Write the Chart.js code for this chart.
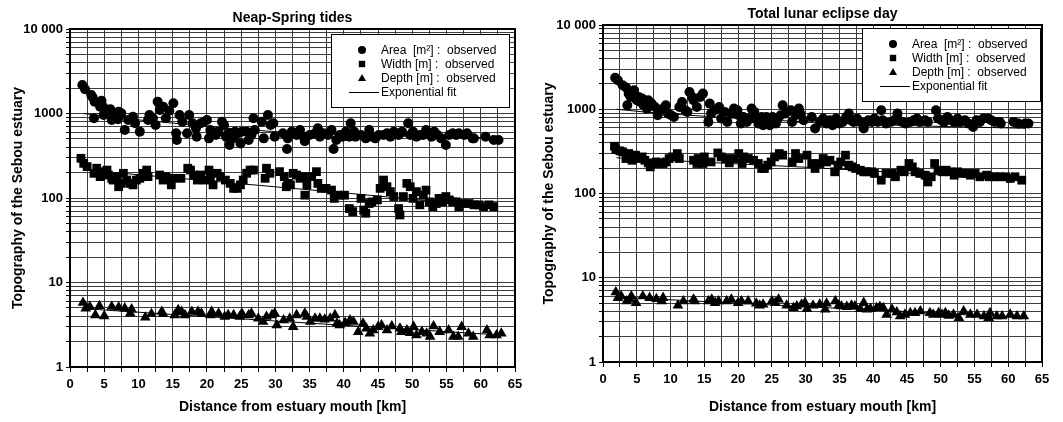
<!DOCTYPE html>
<html>
<head>
<meta charset="utf-8">
<title>Sebou estuary topography</title>
<script src="https://cdn.jsdelivr.net/npm/chart.js@4/dist/chart.umd.min.js"></script>
<style>
    body { margin: 0; background: #fff; }
    .panel { position: absolute; top: 0; height: 422px; }
</style>
</head>
<body>
<div class="panel" style="left: 0; width: 531px;"><canvas id="neap-chart"></canvas></div>
<div class="panel" style="left: 531px; width: 532px;"><canvas id="eclipse-chart"></canvas></div>
<script>
// [distance km, value] pairs
const neapArea = [
    [1.8, 2175], [2.2, 1933], [3.1, 1656], [3.3, 1554], [3.5, 877], [3.6, 1381], [4.4, 1205], [4.6, 1418],
    [4.9, 1183], [4.9, 960], [5.1, 1050], [5.5, 1100], [5.9, 1120], [6.1, 838], [6.3, 917], [6.6, 1004],
    [7.0, 854], [7.1, 1050], [7.5, 1004], [8.0, 638], [8.5, 838], [9.2, 917], [9.5, 765], [10.2, 610],
    [11.4, 838], [11.6, 960], [12.1, 877], [12.5, 731], [12.8, 1381], [13.1, 1100], [13.6, 1205], [14.0, 877],
    [14.5, 1080], [15.1, 1320], [15.5, 583], [15.6, 486], [16.0, 960], [16.4, 800], [17.1, 583], [17.4, 960],
    [17.9, 765], [18.4, 667], [18.5, 532], [19.1, 765], [19.6, 800], [20.0, 838], [20.3, 508], [20.5, 638],
    [21.3, 557], [21.7, 610], [22.2, 800], [22.5, 731], [22.8, 532], [23.2, 583], [23.3, 424], [23.8, 508],
    [24.1, 610], [24.6, 583], [24.9, 443], [25.1, 610], [25.8, 610], [26.1, 486], [26.5, 557], [26.8, 877],
    [27.0, 638], [28.0, 800], [28.3, 508], [28.9, 960], [29.3, 731], [29.7, 765], [29.9, 532], [31.1, 583],
    [31.7, 380], [31.8, 508], [32.4, 610], [33.1, 557], [33.6, 638], [34.1, 532], [34.3, 470], [35.0, 557],
    [35.8, 583], [36.2, 667], [36.5, 532], [37.0, 583], [37.7, 557], [38.2, 638], [38.5, 380], [38.9, 486],
    [39.4, 557], [39.8, 532], [40.3, 610], [40.8, 532], [41.0, 765], [41.5, 610], [41.7, 532], [42.5, 557],
    [43.2, 508], [43.7, 638], [44.1, 532], [44.6, 508], [45.1, 557], [45.8, 557], [46.3, 583], [46.8, 532],
    [47.3, 610], [48.0, 557], [48.5, 610], [49.4, 765], [49.7, 557], [50.1, 610], [50.6, 532], [51.1, 557],
    [51.6, 557], [52.0, 638], [52.8, 532], [53.2, 610], [53.7, 557], [54.2, 508], [54.9, 424], [55.4, 557],
    [55.9, 583], [56.4, 557], [56.8, 583], [57.6, 557], [58.0, 583], [58.8, 508], [59.0, 508], [60.7, 532],
    [61.9, 486], [62.6, 486]
];
const neapWidth = [
    [1.6, 295], [2.0, 257], [2.5, 235], [3.5, 196], [3.9, 225], [4.4, 179], [4.7, 205], [5.4, 214],
    [5.6, 187], [6.1, 171], [6.3, 163], [6.8, 179], [7.1, 136], [7.5, 149], [7.8, 196], [8.3, 163],
    [8.8, 149], [9.2, 143], [9.7, 163], [10.2, 171], [10.7, 196], [11.2, 214], [11.4, 179], [13.1, 187],
    [13.6, 163], [14.0, 179], [14.8, 143], [15.0, 171], [16.2, 171], [17.2, 225], [17.6, 214], [18.1, 187],
    [18.6, 163], [19.1, 187], [19.8, 163], [20.3, 214], [20.5, 179], [20.9, 143], [21.5, 196], [22.0, 179],
    [22.7, 163], [23.4, 149], [23.9, 130], [24.4, 130], [24.9, 143], [25.3, 163], [25.8, 196], [26.3, 214],
    [26.8, 214], [28.5, 171], [28.7, 225], [29.2, 196], [30.6, 205], [31.3, 179], [31.6, 136], [31.8, 149],
    [32.2, 143], [32.6, 196], [33.1, 187], [33.6, 171], [34.1, 179], [34.3, 108], [34.6, 143], [35.3, 179],
    [36.0, 205], [36.2, 149], [36.7, 130], [37.4, 130], [38.2, 124], [38.6, 99], [39.4, 108], [40.1, 108],
    [40.8, 75], [41.3, 69], [42.5, 99], [42.9, 72], [43.2, 66], [43.7, 86], [44.1, 90], [44.9, 95],
    [45.3, 130], [45.8, 163], [46.3, 136], [46.8, 119], [47.3, 104], [48.0, 75], [48.2, 63], [48.7, 104],
    [49.2, 149], [49.7, 136], [50.1, 99], [50.6, 119], [51.1, 83], [51.6, 108], [52.0, 124], [52.5, 90],
    [53.0, 79], [53.5, 86], [53.9, 99], [54.4, 90], [54.9, 104], [55.4, 95], [55.9, 90], [56.4, 90],
    [56.8, 79], [57.3, 86], [58.3, 86], [59.0, 83], [59.7, 83], [60.4, 79], [61.2, 83], [61.9, 79]
];
const neapDepth = [
    [1.9, 5.78], [2.3, 4.95], [2.9, 5.18], [3.7, 4.12], [4.3, 5.27], [5.0, 4.01], [6.1, 5.18], [7.1, 5.09],
    [8.0, 4.95], [8.8, 4.31], [9.0, 4.82], [11.0, 3.87], [11.9, 4.24], [13.4, 4.52], [13.6, 4.24], [15.3, 4.12],
    [15.8, 4.73], [16.3, 4.52], [16.8, 4.12], [17.8, 4.52], [18.7, 4.52], [19.2, 4.31], [20.5, 4.12], [20.7, 4.52],
    [21.7, 4.31], [22.6, 3.94], [23.1, 4.12], [23.9, 4.12], [24.8, 3.94], [25.1, 4.31], [26.1, 4.12], [26.5, 4.31],
    [27.5, 3.76], [28.2, 3.43], [28.7, 3.94], [29.5, 4.12], [29.9, 4.31], [30.2, 3.13], [31.2, 3.59], [32.1, 3.76],
    [32.6, 2.99], [33.1, 4.12], [34.3, 4.31], [34.6, 3.94], [35.1, 3.43], [35.8, 3.76], [36.5, 3.76], [37.2, 3.66],
    [38.0, 3.76], [38.7, 4.12], [39.0, 3.28], [39.4, 3.13], [40.2, 3.34], [40.9, 3.59], [41.4, 3.43], [42.1, 2.61],
    [42.8, 3.28], [43.3, 2.86], [43.8, 2.49], [44.3, 2.73], [45.0, 2.99], [45.5, 3.13], [46.3, 2.73], [47.0, 3.05],
    [48.2, 2.86], [48.4, 2.61], [49.2, 2.73], [49.7, 2.54], [50.2, 2.99], [50.6, 2.38], [51.4, 2.61], [52.1, 2.49],
    [52.6, 2.28], [53.1, 3.05], [54.0, 2.61], [55.3, 2.73], [56.0, 2.28], [56.7, 2.28], [57.2, 2.99], [58.2, 2.49],
    [58.9, 2.28], [60.9, 2.73], [61.3, 2.38], [62.3, 2.38], [63.0, 2.49]
];
const neapAreaFit = [[2, 1000], [5, 930], [10, 840], [15, 770], [20, 700], [25, 650], [30, 610], [35, 580], [40, 560], [50, 535], [63, 515]];
const neapWidthFit = [[2, 215], [20, 160], [40, 115], [62.5, 78]];
const neapDepthFit = [[2, 4.9], [30, 3.5], [62.5, 2.4]];

const eclipseArea = [
    [1.8, 2371], [2.2, 2208], [2.9, 1926], [3.4, 1808], [3.6, 1115], [3.8, 1534], [4.1, 1400], [4.6, 1680],
    [4.7, 1465], [5.0, 1278], [5.3, 1400], [5.5, 1222], [5.8, 1337], [6.0, 1115], [6.2, 1167], [6.5, 1018],
    [6.7, 1278], [7.2, 1167], [7.7, 1066], [8.1, 849], [8.4, 973], [8.9, 1018], [9.3, 1115], [9.6, 889],
    [10.1, 849], [10.5, 811], [11.3, 1066], [11.7, 1222], [12.2, 973], [12.5, 930], [12.8, 1605], [13.2, 1400],
    [13.4, 1278], [13.9, 1066], [14.4, 1400], [14.8, 1534], [15.6, 708], [15.8, 1167], [16.0, 889], [16.5, 973],
    [17.0, 1018], [17.2, 1066], [17.5, 775], [18.0, 930], [18.4, 708], [18.9, 889], [19.4, 1018], [19.6, 889],
    [19.9, 973], [20.1, 849], [20.4, 676], [20.8, 811], [21.3, 708], [21.8, 775], [22.0, 1018], [22.4, 930],
    [22.7, 775], [23.0, 676], [23.5, 811], [23.7, 646], [24.2, 811], [24.4, 741], [24.7, 646], [25.1, 811],
    [25.6, 676], [25.9, 775], [26.3, 849], [26.6, 1115], [27.0, 889], [27.8, 973], [28.0, 708], [28.5, 849],
    [29.0, 1018], [29.2, 889], [29.7, 741], [30.9, 811], [31.4, 590], [32.1, 708], [32.6, 775], [33.1, 676],
    [33.6, 741], [34.0, 646], [34.5, 775], [35.0, 676], [35.5, 708], [36.0, 811], [36.4, 889], [36.7, 741],
    [37.1, 708], [37.6, 775], [38.1, 708], [38.6, 590], [38.8, 676], [39.3, 741], [39.8, 708], [40.2, 775],
    [40.7, 708], [41.2, 973], [41.4, 741], [41.9, 676], [42.6, 708], [43.1, 741], [43.6, 889], [43.8, 741],
    [44.3, 708], [44.8, 676], [45.5, 708], [46.0, 741], [46.5, 775], [46.9, 708], [47.7, 741], [48.1, 708],
    [49.3, 973], [49.6, 775], [50.1, 741], [50.5, 708], [51.0, 811], [51.5, 741], [52.0, 708], [52.5, 775],
    [52.9, 708], [53.6, 741], [54.1, 676], [54.8, 617], [55.3, 741], [55.8, 708], [56.3, 775], [57.0, 775],
    [57.5, 741], [58.0, 708], [58.7, 708], [58.9, 676], [60.8, 708], [61.5, 676], [62.5, 676], [63.0, 676]
];
const eclipseWidth = [
    [1.7, 364], [1.9, 332], [2.5, 321], [2.9, 312], [3.4, 260], [3.8, 298], [4.3, 248], [4.8, 285],
    [5.3, 260], [5.8, 272], [6.2, 248], [6.7, 231], [7.0, 207], [7.4, 227], [7.9, 237], [8.4, 227],
    [8.9, 227], [9.3, 237], [9.8, 260], [10.3, 272], [11.0, 298], [11.3, 260], [13.4, 248], [13.9, 227],
    [14.1, 260], [14.8, 227], [15.0, 272], [16.0, 237], [17.0, 303], [17.5, 272], [18.2, 260], [18.7, 231],
    [19.4, 260], [20.1, 298], [20.6, 227], [20.8, 272], [21.5, 260], [22.3, 248], [23.0, 227], [23.5, 198],
    [23.9, 198], [24.4, 217], [24.9, 237], [25.4, 272], [26.1, 298], [26.6, 285], [28.0, 237], [28.5, 298],
    [29.0, 260], [30.2, 285], [30.9, 227], [31.4, 198], [32.1, 227], [32.6, 260], [33.1, 237], [33.6, 248],
    [34.3, 181], [34.8, 217], [35.2, 237], [35.9, 285], [36.4, 217], [36.9, 207], [37.4, 198], [38.1, 189],
    [38.6, 181], [39.0, 181], [39.8, 181], [40.2, 173], [41.2, 144], [41.9, 173], [42.8, 173], [43.3, 158],
    [44.1, 189], [44.6, 181], [45.3, 227], [45.8, 207], [46.2, 181], [46.9, 173], [47.7, 165], [48.1, 137],
    [48.6, 158], [49.1, 227], [49.6, 189], [50.3, 181], [50.8, 189], [51.3, 181], [52.0, 165], [52.5, 181],
    [53.2, 173], [53.9, 173], [54.4, 165], [55.1, 173], [55.8, 158], [56.8, 165], [57.2, 158], [58.0, 158],
    [58.7, 158], [59.6, 158], [60.3, 151], [61.0, 158], [62.0, 144]
];
const eclipseDepth = [
    [1.9, 6.75], [2.2, 5.78], [2.7, 6.05], [3.5, 5.27], [4.0, 5.52], [4.2, 6.05], [4.9, 5.04], [5.9, 6.05],
    [6.9, 5.78], [7.9, 5.62], [8.7, 5.27], [8.9, 5.78], [11.1, 4.69], [11.9, 5.27], [13.4, 5.52], [13.6, 5.27],
    [15.6, 5.27], [16.1, 5.52], [16.6, 5.04], [17.1, 5.27], [18.3, 5.27], [19.0, 5.52], [20.0, 5.04], [20.5, 5.27],
    [21.5, 5.27], [22.7, 4.95], [23.2, 4.69], [23.7, 4.82], [25.0, 5.27], [25.5, 5.04], [26.0, 5.52], [27.2, 4.69],
    [28.2, 4.39], [28.7, 4.60], [29.4, 4.82], [29.9, 5.04], [30.2, 4.28], [31.1, 4.69], [32.1, 4.82], [32.9, 4.20],
    [33.1, 4.95], [34.4, 5.27], [34.9, 4.69], [35.3, 4.60], [36.1, 4.52], [36.8, 4.69], [37.3, 4.60], [38.1, 4.28],
    [38.6, 5.04], [39.1, 4.20], [39.6, 4.28], [40.5, 4.39], [41.0, 4.52], [41.5, 4.39], [42.0, 3.66], [42.8, 4.20],
    [43.5, 3.90], [44.0, 3.50], [44.7, 3.66], [45.5, 3.83], [46.2, 3.83], [47.0, 4.01], [48.4, 3.83], [48.9, 3.66],
    [49.7, 3.83], [50.2, 3.66], [50.7, 3.83], [51.2, 3.56], [51.9, 3.66], [52.7, 3.34], [53.4, 4.01], [54.4, 3.66],
    [55.4, 3.66], [56.4, 3.50], [57.1, 3.34], [57.3, 3.83], [58.3, 3.50], [59.1, 3.50], [60.3, 3.66], [61.3, 3.50],
    [62.3, 3.50]
];
const eclipseAreaFit = [[2, 1000], [6, 930], [12, 855], [20, 780], [29, 715], [40, 660], [50, 625], [62.5, 595]];
const eclipseWidthFit = [[2, 265], [30, 205], [62.5, 145]];
const eclipseDepthFit = [[2, 5.9], [62.5, 3.35]];

const xTickLabels = ["0", "5", "10", "15", "20", "25", "30", "35", "40", "45", "50", "55", "60", "65"];
const yMajorTicks = [1, 10, 100, 1000, 10000];
const yTickLabels = ["1", "10", "100", "1000", "10 000"];
const legendLabels = ["Area  [m\u00b2] :  observed", "Width [m] :  observed", "Depth [m] :  observed", "Exponential fit"];

const FONT = "'Liberation Sans', Arial, sans-serif";
Chart.defaults.font.family = FONT;
Chart.defaults.color = "#000";

// every decade gets grid lines at 1..9 x 10^n
function logTicks() {
    let ticks = [];
    for (let i = 0; i < yMajorTicks.length - 1; i++) {
        for (let s = 1; s < 10; s++)
            ticks.push({ value: yMajorTicks[i] * s, major: s === 1 });
    }
    ticks.push({ value: yMajorTicks[yMajorTicks.length - 1], major: true });
    return ticks;
}

function drawMarker(ctx, style, x, y, r) {
    ctx.beginPath();
    if (style === "circle") {
        ctx.arc(x, y, r, 0, Math.PI * 2);
    } else if (style === "rect") {
        ctx.rect(x - r * 0.8, y - r * 0.8, r * 1.6, r * 1.6);
    } else {
        ctx.moveTo(x, y - r);
        ctx.lineTo(x + r, y + r * 0.75);
        ctx.lineTo(x - r, y + r * 0.75);
        ctx.closePath();
    }
    ctx.fill();
}

const panelPlugin = {
    id: "panel",
    afterDraw(chart, args, opts) {
        const { ctx, chartArea } = chart;
        const { left, top, right, bottom } = chartArea;

        ctx.save();

        // plot frame
        ctx.strokeStyle = "#000";
        ctx.lineWidth = 2;
        ctx.strokeRect(left, top, right - left, bottom - top);

        // title
        ctx.fillStyle = "#000";
        ctx.font = "bold 14px " + FONT;
        ctx.textAlign = "center";
        ctx.textBaseline = "middle";
        ctx.fillText(opts.title, (left + right) / 2, top - 11);

        // legend box
        const bx = right - opts.boxRight - opts.boxWidth;
        const by = top + opts.boxTop;
        ctx.fillStyle = "#fff";
        ctx.fillRect(bx, by, opts.boxWidth, opts.boxHeight);
        ctx.strokeStyle = "#000";
        ctx.lineWidth = 1;
        ctx.strokeRect(bx + 0.5, by + 0.5, opts.boxWidth, opts.boxHeight);

        const styles = ["circle", "rect", "triangle"];
        ctx.font = "12px " + FONT;
        ctx.textAlign = "left";
        for (let i = 0; i < legendLabels.length; i++) {
            const ry = by + 16 + i * 14;
            ctx.fillStyle = "#000";
            if (i < 3) {
                drawMarker(ctx, styles[i], bx + 31, ry, 4);
            } else {
                ctx.beginPath();
                ctx.moveTo(bx + 18, ry + 0.5);
                ctx.lineTo(bx + 48, ry + 0.5);
                ctx.stroke();
            }
            ctx.fillText(legendLabels[i], bx + 50, ry + 1);
        }

        ctx.restore();
    }
};

function createPanel(canvas, title, area, width, depth, fits, sizes) {
    const pointSet = (data, style, radius) => ({
        data: data,
        pointStyle: style,
        pointRadius: radius,
        backgroundColor: "#000",
        borderColor: "#000",
        borderWidth: 0,
        showLine: false
    });
    const fitSet = (data) => ({
        data: data,
        showLine: true,
        pointRadius: 0,
        borderColor: "#000",
        borderWidth: 1,
        fill: false
    });

    new Chart(canvas, {
        type: "scatter",
        data: {
            datasets: [
                pointSet(area, "circle", 5),
                pointSet(width, "rect", 6.2),
                pointSet(depth, "triangle", 6.2),
                fitSet(fits[0]),
                fitSet(fits[1]),
                fitSet(fits[2])
            ]
        },
        options: {
            responsive: true,
            maintainAspectRatio: false,
            animation: false,
            layout: { padding: { left: 0, top: sizes.top, right: sizes.right, bottom: 0 } },
            plugins: {
                legend: { display: false },
                tooltip: { enabled: false },
                panel: {
                    title: title,
                    boxRight: sizes.boxRight,
                    boxTop: sizes.boxTop,
                    boxWidth: 178,
                    boxHeight: 73
                }
            },
            scales: {
                x: {
                    type: "linear",
                    min: 0,
                    max: 65,
                    ticks: {
                        stepSize: 2.5,
                        autoSkip: false,
                        maxRotation: 0,
                        padding: 5,
                        font: { size: 13, weight: "bold" },
                        callback: (v) => Number.isInteger(v / 5) ? xTickLabels[v / 5] : ""
                    },
                    grid: { color: "#3c3c3c", tickColor: "#000", tickLength: 5, lineWidth: 1 },
                    border: { display: false },
                    title: {
                        display: true,
                        text: "Distance from estuary mouth [km]",
                        font: { size: 14, weight: "bold" },
                        padding: { top: 6, bottom: 6 }
                    },
                    afterFit: (scale) => { scale.height = sizes.xHeight; }
                },
                y: {
                    type: "logarithmic",
                    min: 1,
                    max: 10000,
                    afterBuildTicks: (scale) => { scale.ticks = logTicks(); },
                    ticks: {
                        autoSkip: false,
                        padding: 3,
                        font: { size: 13, weight: "bold" },
                        callback: (v) => {
                            const i = yMajorTicks.indexOf(v);
                            return i >= 0 ? yTickLabels[i] : "";
                        }
                    },
                    grid: { color: "#3c3c3c", tickColor: "#000", tickLength: 4, lineWidth: 1 },
                    border: { display: false },
                    title: {
                        display: true,
                        text: "Topography of the Sebou estuary",
                        font: { size: 14, weight: "bold" },
                        padding: { top: 10, bottom: 4 }
                    },
                    afterFit: (scale) => { scale.width = sizes.yWidth; }
                }
            }
        },
        plugins: [panelPlugin]
    });
}

createPanel(document.querySelector("#neap-chart"), "Neap-Spring tides",
    neapArea, neapWidth, neapDepth, [neapAreaFit, neapWidthFit, neapDepthFit],
    { top: 29, right: 16, xHeight: 55, yWidth: 70, boxRight: 6, boxTop: 5 });

createPanel(document.querySelector("#eclipse-chart"), "Total lunar eclipse day",
    eclipseArea, eclipseWidth, eclipseDepth, [eclipseAreaFit, eclipseWidthFit, eclipseDepthFit],
    { top: 25, right: 21, xHeight: 60, yWidth: 72, boxRight: 2, boxTop: 3 });
</script>
</body>
</html>
